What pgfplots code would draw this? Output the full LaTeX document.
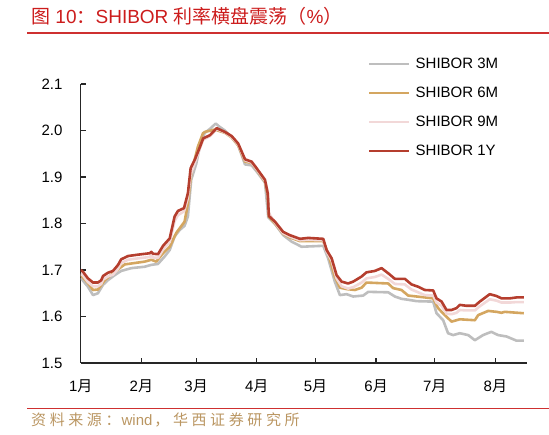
\documentclass[border=0pt]{standalone}
\usepackage{fontspec}
\setmainfont{Liberation Sans}
\newfontfamily\cjk{Noto Sans CJK SC}
\newfontfamily\cjksrc[LetterSpace=24]{Noto Sans CJK SC}
\usepackage{pgfplots}
\pgfplotsset{compat=1.18}

\definecolor{c3m}{RGB}{190,190,190}
\definecolor{c6m}{RGB}{212,166,96}
\definecolor{c9m}{RGB}{242,216,216}
\definecolor{c1y}{RGB}{181,62,46}
\definecolor{titlered}{RGB}{204,28,28}
\definecolor{rulered}{RGB}{206,48,48}
\definecolor{srccolor}{RGB}{186,150,98}

% day of year, rate (%)
\pgfplotstableread{
d v
0 1.683
3.7 1.664
6.3 1.646
8.8 1.650
11.4 1.668
13.9 1.678
17.4 1.689
20.7 1.698
25.9 1.704
32.7 1.707
36.1 1.711
39.5 1.713
42.9 1.729
45.5 1.743
48.0 1.772
50.6 1.786
53.1 1.795
54.8 1.815
56.5 1.894
59.1 1.929
61.6 1.980
63.5 1.995
66.5 2.005
69.0 2.015
71.0 2.008
73.7 2.000
77.2 1.985
80.5 1.968
84.0 1.927
87.4 1.925
89.9 1.912
94.2 1.888
95.9 1.813
99.3 1.799
103.5 1.775
107.8 1.761
112.9 1.750
124.0 1.752
126.5 1.725
129.9 1.675
132.5 1.646
135.9 1.648
139.3 1.643
144.4 1.645
147.0 1.653
157.2 1.652
160.6 1.643
164.0 1.638
167.4 1.636
171.7 1.633
180.2 1.632
181.9 1.607
185.3 1.592
187.8 1.564
190.4 1.560
193.8 1.564
198.1 1.560
201.5 1.549
205.7 1.560
209.9 1.567
213.4 1.560
217.7 1.557
222.8 1.548
226.5 1.548
}\threem

\pgfplotstableread{
d v
0 1.689
3.7 1.672
6.3 1.657
8.8 1.658
12.3 1.678
17.4 1.696
22.5 1.712
32.7 1.718
36.1 1.722
38.6 1.718
42.1 1.736
45.5 1.750
48.9 1.780
53.1 1.804
54.8 1.843
56.5 1.908
59.9 1.965
62.5 1.994
63.5 1.997
68.6 2.002
73.7 1.995
77.2 1.985
80.5 1.968
84.0 1.933
87.4 1.930
89.9 1.916
94.2 1.890
95.6 1.860
96.2 1.815
99.3 1.800
103.5 1.778
106.9 1.770
112.1 1.762
124.0 1.762
126.5 1.735
129.9 1.686
132.5 1.662
135.9 1.659
140.2 1.657
143.6 1.662
146.1 1.673
157.2 1.671
159.7 1.661
164.0 1.657
167.4 1.645
171.7 1.643
180.2 1.639
182.7 1.618
186.1 1.603
189.6 1.589
193.8 1.594
201.5 1.592
203.2 1.603
208.3 1.612
212.6 1.610
215.1 1.608
216.8 1.610
226.5 1.607
}\sixm

\pgfplotstableread{
d v
0 1.692
1.2 1.688
3.7 1.674
6.3 1.665
8.8 1.665
10.5 1.670
11.4 1.679
13.9 1.686
16.5 1.690
19.1 1.703
20.7 1.715
24.2 1.722
29.3 1.725
35.3 1.728
36.1 1.731
36.9 1.727
39.5 1.726
42.1 1.744
45.5 1.760
48.0 1.805
49.7 1.818
52.8 1.826
54.8 1.855
56.2 1.905
58.3 1.930
61.0 1.962
62.6 1.980
66.1 1.988
69.5 2.003
73.7 1.996
77.2 1.986
80.5 1.970
84.0 1.936
87.4 1.931
89.9 1.917
94.2 1.892
95.6 1.868
96.2 1.822
99.3 1.802
103.5 1.779
106.9 1.772
112.1 1.764
116.3 1.765
124.0 1.764
125.7 1.740
128.3 1.720
130.8 1.682
133.4 1.665
136.7 1.660
139.3 1.663
143.6 1.673
146.1 1.682
150.4 1.685
153.8 1.690
157.2 1.681
160.6 1.670
165.7 1.669
169.1 1.658
172.5 1.652
175.9 1.646
180.2 1.645
181.9 1.630
184.5 1.623
187.0 1.606
189.6 1.605
192.1 1.608
193.8 1.614
197.2 1.613
201.5 1.613
204.0 1.622
209.1 1.637
212.6 1.634
215.1 1.630
219.4 1.630
222.8 1.631
226.5 1.631
}\ninem

\pgfplotstableread{
d v
0 1.700
1.2 1.696
3.7 1.682
6.3 1.673
8.8 1.673
10.5 1.678
11.4 1.687
13.9 1.694
16.5 1.698
19.1 1.711
20.7 1.723
24.2 1.730
29.3 1.733
35.3 1.736
36.1 1.739
36.9 1.735
39.5 1.734
42.1 1.752
45.5 1.768
48.0 1.815
49.7 1.827
52.8 1.833
54.8 1.865
56.2 1.919
58.3 1.937
61.0 1.965
62.6 1.983
66.1 1.990
69.5 2.005
73.7 1.997
77.2 1.988
80.5 1.972
84.0 1.938
87.4 1.933
89.9 1.919
94.2 1.894
95.6 1.865
96.2 1.816
99.3 1.804
103.5 1.782
106.9 1.775
112.1 1.767
116.3 1.769
124.0 1.767
125.7 1.743
128.3 1.725
130.8 1.689
133.4 1.675
136.7 1.671
139.3 1.675
143.6 1.686
146.1 1.695
150.4 1.698
153.8 1.704
157.2 1.693
160.6 1.681
165.7 1.681
169.1 1.669
172.5 1.664
175.9 1.657
180.2 1.656
181.9 1.639
184.5 1.632
187.0 1.614
189.6 1.614
192.1 1.618
193.8 1.625
197.2 1.623
201.5 1.623
204.0 1.632
209.1 1.648
212.6 1.644
215.1 1.639
219.4 1.639
222.8 1.641
226.5 1.641
}\oney

\begin{document}
\begin{tikzpicture}
\useasboundingbox (0pt,0pt) rectangle (549pt,435pt);

% title and rules
\node[anchor=base west, inner sep=0pt, text=titlered, font=\fontsize{19}{19}\selectfont]
  at (31pt,411.7pt) {{\cjk 图} 10{\cjk ：}SHIBOR {\cjk 利率横盘震荡（}\%{\cjk ）}};
\draw[rulered, line width=2pt] (27pt,401.7pt) -- (549pt,401.7pt);
\draw[rulered, line width=1.5pt] (27pt,26.7pt) -- (549pt,26.7pt);
\node[anchor=base west, inner sep=0pt, text=srccolor, font=\fontsize{15}{15}\selectfont]
  at (31pt,9.5pt) {{\cjksrc 资料来源：}\hspace{1pt}wind\hspace{2pt}{\cjksrc ，华西证券研究所}};

\begin{axis}[
    at={(80.7pt,72pt)}, anchor=south west,
    scale only axis, width=446pt, height=279pt,
    xmin=0, xmax=228, ymin=1.5, ymax=2.1,
    axis x line*=bottom, axis y line*=left,
    axis line style={line width=1.3pt, black!85},
    tick style={line width=1.2pt, black!85},
    tick align=inside, major tick length=5pt,
    xtick={0,31,59,90,120,151,181,212},
    xticklabels={1{\cjk 月},2{\cjk 月},3{\cjk 月},4{\cjk 月},5{\cjk 月},6{\cjk 月},7{\cjk 月},8{\cjk 月}},
    ytick={1.5,1.6,1.7,1.8,1.9,2.0,2.1},
    /pgf/number format/assume math mode=true,
    tick label style={font=\fontsize{15}{15}\selectfont, inner sep=0pt},
    y tick label style={/pgf/number format/fixed, /pgf/number format/fixed zerofill,
        /pgf/number format/precision=1, xshift=-18pt},
    x tick label style={yshift=-17pt},
    legend cell align=left,
    legend image code/.code={\draw[#1] (0pt,0pt) -- (40pt,0pt);},
    legend style={at={(0.644,1.097)}, anchor=north west, draw=none, fill=none,
        inner sep=0pt, row sep=15pt, font=\fontsize{15}{15}\selectfont,
        nodes={inner sep=0pt, text height=11pt, text depth=3pt},
        /tikz/every odd column/.append style={column sep=5pt}},
    every axis plot/.append style={line width=2.6pt, line join=round},
]
\addplot[c3m] table[x=d, y=v] {\threem};
\addlegendentry{SHIBOR 3M}
\addplot[c6m] table[x=d, y=v] {\sixm};
\addlegendentry{SHIBOR 6M}
\addplot[c9m] table[x=d, y=v] {\ninem};
\addlegendentry{SHIBOR 9M}
\addplot[c1y] table[x=d, y=v] {\oney};
\addlegendentry{SHIBOR 1Y}
\end{axis}
\end{tikzpicture}
\end{document}
